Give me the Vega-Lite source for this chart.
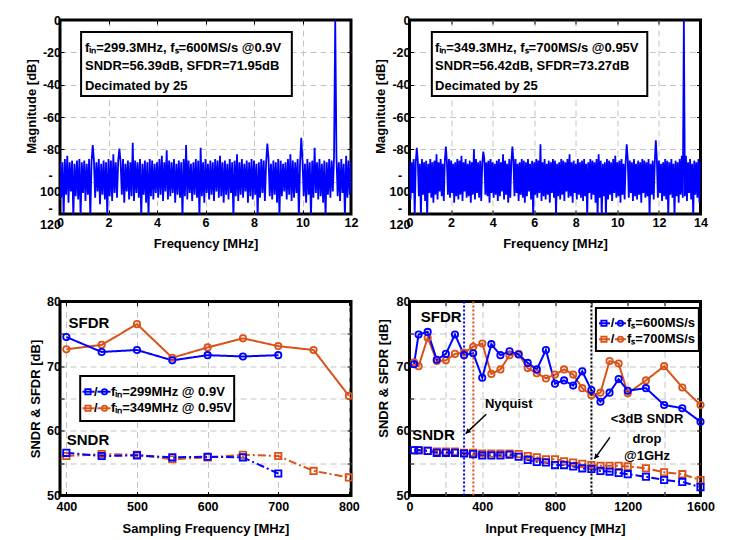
{
"$schema":"https://vega.github.io/schema/vega-lite/v6.json",
"background":"white",
"padding":{"left":23,"top":12,"right":5,"bottom":5},
"config":{
 "font":"Liberation Sans",
 "view":{"stroke":"black","strokeWidth":3},
 "axis":{"domain":false,"labelFontSize":12.5,"labelFontWeight":"bold","labelColor":"black","titleFontSize":13,"titleFontWeight":"bold","titleColor":"black","tickColor":"black","tickSize":-4,"tickWidth":1,"gridDash":[6,4],"gridWidth":1,"labelFlush":false,"labelOverlap":false,"labelBound":false,"labelPadding":6,"titlePadding":4},
 "text":{"fontWeight":"bold","fontSize":13,"color":"black"}
},
"datasets":{
"fft1":[{"x":0,"y":-87},{"x":0.05,"y":-110},{"x":0.1,"y":-88},{"x":0.15,"y":-122},{"x":0.2,"y":-86},{"x":0.25,"y":-108},{"x":0.3,"y":-84},{"x":0.35,"y":-113},{"x":0.4,"y":-88},{"x":0.45,"y":-106},{"x":0.5,"y":-87},{"x":0.55,"y":-122},{"x":0.6,"y":-89},{"x":0.65,"y":-109},{"x":0.7,"y":-87},{"x":0.75,"y":-111},{"x":0.8,"y":-86},{"x":0.85,"y":-122},{"x":0.9,"y":-88},{"x":0.95,"y":-107},
{"x":1,"y":-87},{"x":1.05,"y":-112},{"x":1.1,"y":-89},{"x":1.15,"y":-108},{"x":1.2,"y":-86},{"x":1.25,"y":-122},{"x":1.3,"y":-88},{"x":1.35,"y":-77.3},{"x":1.4,"y":-87},{"x":1.45,"y":-110},{"x":1.5,"y":-88},{"x":1.55,"y":-106},{"x":1.6,"y":-86},{"x":1.65,"y":-114},{"x":1.7,"y":-89},{"x":1.75,"y":-108},{"x":1.8,"y":-87},{"x":1.85,"y":-111},{"x":1.9,"y":-88},{"x":1.95,"y":-122},
{"x":2,"y":-86},{"x":2.05,"y":-109},{"x":2.1,"y":-87},{"x":2.15,"y":-112},{"x":2.2,"y":-83},{"x":2.25,"y":-107},{"x":2.3,"y":-88},{"x":2.35,"y":-110},{"x":2.4,"y":-87},{"x":2.45,"y":-79.6},{"x":2.5,"y":-88},{"x":2.55,"y":-108},{"x":2.6,"y":-86},{"x":2.65,"y":-113},{"x":2.7,"y":-89},{"x":2.75,"y":-106},{"x":2.8,"y":-87},{"x":2.85,"y":-111},{"x":2.9,"y":-88},{"x":2.95,"y":-109},
{"x":3,"y":-75.9},{"x":3.05,"y":-112},{"x":3.1,"y":-87},{"x":3.15,"y":-107},{"x":3.2,"y":-88},{"x":3.25,"y":-110},{"x":3.3,"y":-86},{"x":3.35,"y":-122},{"x":3.4,"y":-89},{"x":3.45,"y":-108},{"x":3.5,"y":-87},{"x":3.55,"y":-113},{"x":3.6,"y":-88},{"x":3.65,"y":-122},{"x":3.7,"y":-86},{"x":3.75,"y":-109},{"x":3.8,"y":-87},{"x":3.85,"y":-111},{"x":3.9,"y":-89},{"x":3.95,"y":-107},
{"x":4,"y":-88},{"x":4.05,"y":-110},{"x":4.1,"y":-86},{"x":4.15,"y":-108},{"x":4.2,"y":-84},{"x":4.25,"y":-112},{"x":4.3,"y":-88},{"x":4.35,"y":-106},{"x":4.4,"y":-80.6},{"x":4.45,"y":-111},{"x":4.5,"y":-87},{"x":4.55,"y":-109},{"x":4.6,"y":-88},{"x":4.65,"y":-107},{"x":4.7,"y":-86},{"x":4.75,"y":-113},{"x":4.8,"y":-89},{"x":4.85,"y":-108},{"x":4.9,"y":-87},{"x":4.95,"y":-110},
{"x":5,"y":-88},{"x":5.05,"y":-122},{"x":5.1,"y":-86},{"x":5.15,"y":-109},{"x":5.2,"y":-77.3},{"x":5.25,"y":-111},{"x":5.3,"y":-87},{"x":5.35,"y":-107},{"x":5.4,"y":-89},{"x":5.45,"y":-112},{"x":5.5,"y":-88},{"x":5.55,"y":-108},{"x":5.6,"y":-86},{"x":5.65,"y":-110},{"x":5.7,"y":-87},{"x":5.75,"y":-122},{"x":5.8,"y":-79},{"x":5.85,"y":-109},{"x":5.9,"y":-88},{"x":5.95,"y":-113},
{"x":6,"y":-86},{"x":6.05,"y":-107},{"x":6.1,"y":-89},{"x":6.15,"y":-111},{"x":6.2,"y":-87},{"x":6.25,"y":-108},{"x":6.3,"y":-88},{"x":6.35,"y":-112},{"x":6.4,"y":-86},{"x":6.45,"y":-106},{"x":6.5,"y":-87},{"x":6.55,"y":-110},{"x":6.6,"y":-84},{"x":6.65,"y":-109},{"x":6.7,"y":-88},{"x":6.75,"y":-113},{"x":6.8,"y":-87},{"x":6.85,"y":-108},{"x":6.9,"y":-89},{"x":6.95,"y":-111},
{"x":7,"y":-86},{"x":7.05,"y":-107},{"x":7.1,"y":-88},{"x":7.15,"y":-122},{"x":7.2,"y":-87},{"x":7.25,"y":-109},{"x":7.3,"y":-83},{"x":7.35,"y":-112},{"x":7.4,"y":-88},{"x":7.45,"y":-108},{"x":7.5,"y":-86},{"x":7.55,"y":-110},{"x":7.6,"y":-89},{"x":7.65,"y":-106},{"x":7.7,"y":-87},{"x":7.75,"y":-113},{"x":7.8,"y":-88},{"x":7.85,"y":-109},{"x":7.9,"y":-86},{"x":7.95,"y":-111},
{"x":8,"y":-87},{"x":8.05,"y":-108},{"x":8.1,"y":-89},{"x":8.15,"y":-122},{"x":8.2,"y":-88},{"x":8.25,"y":-110},{"x":8.3,"y":-86},{"x":8.35,"y":-107},{"x":8.4,"y":-87},{"x":8.45,"y":-112},{"x":8.5,"y":-88},{"x":8.55,"y":-76.5},{"x":8.6,"y":-86},{"x":8.65,"y":-109},{"x":8.7,"y":-89},{"x":8.75,"y":-111},{"x":8.8,"y":-87},{"x":8.85,"y":-108},{"x":8.9,"y":-88},{"x":8.95,"y":-113},
{"x":9,"y":-86},{"x":9.05,"y":-122},{"x":9.1,"y":-87},{"x":9.15,"y":-109},{"x":9.2,"y":-89},{"x":9.25,"y":-106},{"x":9.3,"y":-88},{"x":9.35,"y":-111},{"x":9.4,"y":-86},{"x":9.45,"y":-108},{"x":9.5,"y":-83},{"x":9.55,"y":-112},{"x":9.6,"y":-87},{"x":9.65,"y":-110},{"x":9.7,"y":-88},{"x":9.75,"y":-107},{"x":9.8,"y":-86},{"x":9.85,"y":-122},{"x":9.9,"y":-88},{"x":9.95,"y":-72.8},
{"x":10,"y":-87},{"x":10.05,"y":-109},{"x":10.1,"y":-89},{"x":10.15,"y":-113},{"x":10.2,"y":-86},{"x":10.25,"y":-108},{"x":10.3,"y":-88},{"x":10.35,"y":-122},{"x":10.4,"y":-87},{"x":10.45,"y":-110},{"x":10.5,"y":-79},{"x":10.55,"y":-107},{"x":10.6,"y":-88},{"x":10.65,"y":-111},{"x":10.7,"y":-86},{"x":10.75,"y":-109},{"x":10.8,"y":-89},{"x":10.85,"y":-113},{"x":10.9,"y":-87},{"x":10.95,"y":-122},
{"x":11,"y":-88},{"x":11.05,"y":-108},{"x":11.1,"y":-86},{"x":11.15,"y":-110},{"x":11.2,"y":-87},{"x":11.25,"y":-106},{"x":11.3,"y":-85},{"x":11.35,"y":0},{"x":11.4,"y":-84},{"x":11.45,"y":-109},{"x":11.5,"y":-88},{"x":11.55,"y":-112},{"x":11.6,"y":-86},{"x":11.65,"y":-107},{"x":11.7,"y":-89},{"x":11.75,"y":-122},{"x":11.8,"y":-84},{"x":11.85,"y":-110},{"x":11.9,"y":-87},{"x":11.95,"y":-108},{"x":12,"y":-88}],
"fft2":[{"x":0,"y":-87},{"x":0.05,"y":-111},{"x":0.1,"y":-88},{"x":0.15,"y":-107},{"x":0.2,"y":-86},{"x":0.25,"y":-122},{"x":0.3,"y":-88},{"x":0.35,"y":-79},{"x":0.4,"y":-87},{"x":0.45,"y":-109},{"x":0.5,"y":-89},{"x":0.55,"y":-122},{"x":0.6,"y":-86},{"x":0.65,"y":-108},{"x":0.7,"y":-88},{"x":0.75,"y":-112},{"x":0.8,"y":-87},{"x":0.85,"y":-122},{"x":0.9,"y":-89},{"x":0.95,"y":-107},
{"x":1,"y":-86},{"x":1.05,"y":-110},{"x":1.1,"y":-88},{"x":1.15,"y":-113},{"x":1.2,"y":-87},{"x":1.25,"y":-108},{"x":1.3,"y":-83},{"x":1.35,"y":-111},{"x":1.4,"y":-88},{"x":1.45,"y":-106},{"x":1.5,"y":-86},{"x":1.55,"y":-109},{"x":1.6,"y":-89},{"x":1.65,"y":-112},{"x":1.7,"y":-87},{"x":1.75,"y":-78.3},{"x":1.8,"y":-88},{"x":1.85,"y":-108},{"x":1.9,"y":-86},{"x":1.95,"y":-110},
{"x":2,"y":-87},{"x":2.05,"y":-107},{"x":2.1,"y":-89},{"x":2.15,"y":-113},{"x":2.2,"y":-88},{"x":2.25,"y":-109},{"x":2.3,"y":-86},{"x":2.35,"y":-111},{"x":2.4,"y":-87},{"x":2.45,"y":-108},{"x":2.5,"y":-84},{"x":2.55,"y":-112},{"x":2.6,"y":-88},{"x":2.65,"y":-106},{"x":2.7,"y":-86},{"x":2.75,"y":-110},{"x":2.8,"y":-89},{"x":2.85,"y":-109},{"x":2.9,"y":-87},{"x":2.95,"y":-113},
{"x":3,"y":-88},{"x":3.05,"y":-108},{"x":3.1,"y":-80},{"x":3.15,"y":-111},{"x":3.2,"y":-86},{"x":3.25,"y":-107},{"x":3.3,"y":-88},{"x":3.35,"y":-110},{"x":3.4,"y":-87},{"x":3.45,"y":-112},{"x":3.5,"y":-89},{"x":3.55,"y":-81.4},{"x":3.6,"y":-86},{"x":3.65,"y":-108},{"x":3.7,"y":-88},{"x":3.75,"y":-109},{"x":3.8,"y":-87},{"x":3.85,"y":-113},{"x":3.9,"y":-86},{"x":3.95,"y":-107},
{"x":4,"y":-88},{"x":4.05,"y":-110},{"x":4.1,"y":-89},{"x":4.15,"y":-108},{"x":4.2,"y":-87},{"x":4.25,"y":-112},{"x":4.3,"y":-86},{"x":4.35,"y":-109},{"x":4.4,"y":-88},{"x":4.45,"y":-106},{"x":4.5,"y":-83},{"x":4.55,"y":-111},{"x":4.6,"y":-87},{"x":4.65,"y":-108},{"x":4.7,"y":-89},{"x":4.75,"y":-113},{"x":4.8,"y":-86},{"x":4.85,"y":-110},{"x":4.9,"y":-88},{"x":4.95,"y":-78.3},
{"x":5,"y":-87},{"x":5.05,"y":-109},{"x":5.1,"y":-86},{"x":5.15,"y":-107},{"x":5.2,"y":-89},{"x":5.25,"y":-112},{"x":5.3,"y":-88},{"x":5.35,"y":-108},{"x":5.4,"y":-86},{"x":5.45,"y":-110},{"x":5.5,"y":-87},{"x":5.55,"y":-113},{"x":5.6,"y":-88},{"x":5.65,"y":-109},{"x":5.7,"y":-86},{"x":5.75,"y":-106},{"x":5.8,"y":-89},{"x":5.85,"y":-111},{"x":5.9,"y":-87},{"x":5.95,"y":-122},
{"x":6,"y":-88},{"x":6.05,"y":-108},{"x":6.1,"y":-86},{"x":6.15,"y":-110},{"x":6.2,"y":-87},{"x":6.25,"y":-107},{"x":6.3,"y":-76.9},{"x":6.35,"y":-112},{"x":6.4,"y":-88},{"x":6.45,"y":-109},{"x":6.5,"y":-86},{"x":6.55,"y":-111},{"x":6.6,"y":-89},{"x":6.65,"y":-108},{"x":6.7,"y":-87},{"x":6.75,"y":-113},{"x":6.8,"y":-88},{"x":6.85,"y":-107},{"x":6.9,"y":-86},{"x":6.95,"y":-110},
{"x":7,"y":-87},{"x":7.05,"y":-122},{"x":7.1,"y":-89},{"x":7.15,"y":-109},{"x":7.2,"y":-88},{"x":7.25,"y":-111},{"x":7.3,"y":-86},{"x":7.35,"y":-108},{"x":7.4,"y":-87},{"x":7.45,"y":-112},{"x":7.5,"y":-88},{"x":7.55,"y":-106},{"x":7.6,"y":-86},{"x":7.65,"y":-110},{"x":7.7,"y":-83},{"x":7.75,"y":-109},{"x":7.8,"y":-88},{"x":7.85,"y":-113},{"x":7.9,"y":-87},{"x":7.95,"y":-107},
{"x":8,"y":-89},{"x":8.05,"y":-111},{"x":8.1,"y":-86},{"x":8.15,"y":-108},{"x":8.2,"y":-88},{"x":8.25,"y":-110},{"x":8.3,"y":-87},{"x":8.35,"y":-112},{"x":8.4,"y":-86},{"x":8.45,"y":-109},{"x":8.5,"y":-89},{"x":8.55,"y":-122},{"x":8.6,"y":-88},{"x":8.65,"y":-107},{"x":8.7,"y":-86},{"x":8.75,"y":-111},{"x":8.8,"y":-87},{"x":8.85,"y":-108},{"x":8.9,"y":-88},{"x":8.95,"y":-113},
{"x":9,"y":-86},{"x":9.05,"y":-122},{"x":9.1,"y":-83},{"x":9.15,"y":-110},{"x":9.2,"y":-87},{"x":9.25,"y":-122},{"x":9.3,"y":-89},{"x":9.35,"y":-109},{"x":9.4,"y":-88},{"x":9.45,"y":-122},{"x":9.5,"y":-86},{"x":9.55,"y":-111},{"x":9.6,"y":-87},{"x":9.65,"y":-108},{"x":9.7,"y":-88},{"x":9.75,"y":-112},{"x":9.8,"y":-86},{"x":9.85,"y":-107},{"x":9.9,"y":-84},{"x":9.95,"y":-110},
{"x":10,"y":-88},{"x":10.05,"y":-109},{"x":10.1,"y":-87},{"x":10.15,"y":-113},{"x":10.2,"y":-86},{"x":10.25,"y":-108},{"x":10.3,"y":-89},{"x":10.35,"y":-111},{"x":10.4,"y":-88},{"x":10.45,"y":-76.9},{"x":10.5,"y":-86},{"x":10.55,"y":-110},{"x":10.6,"y":-87},{"x":10.65,"y":-107},{"x":10.7,"y":-88},{"x":10.75,"y":-112},{"x":10.8,"y":-86},{"x":10.85,"y":-109},{"x":10.9,"y":-89},{"x":10.95,"y":-111},
{"x":11,"y":-87},{"x":11.05,"y":-108},{"x":11.1,"y":-88},{"x":11.15,"y":-113},{"x":11.2,"y":-86},{"x":11.25,"y":-107},{"x":11.3,"y":-87},{"x":11.35,"y":-110},{"x":11.4,"y":-88},{"x":11.45,"y":-109},{"x":11.5,"y":-86},{"x":11.55,"y":-122},{"x":11.6,"y":-89},{"x":11.65,"y":-108},{"x":11.7,"y":-87},{"x":11.75,"y":-111},{"x":11.8,"y":-88},{"x":11.85,"y":-74.4},{"x":11.9,"y":-86},{"x":11.95,"y":-110},
{"x":12,"y":-87},{"x":12.05,"y":-107},{"x":12.1,"y":-89},{"x":12.15,"y":-112},{"x":12.2,"y":-88},{"x":12.25,"y":-109},{"x":12.3,"y":-86},{"x":12.35,"y":-111},{"x":12.4,"y":-87},{"x":12.45,"y":-122},{"x":12.5,"y":-88},{"x":12.55,"y":-108},{"x":12.6,"y":-86},{"x":12.65,"y":-110},{"x":12.7,"y":-89},{"x":12.75,"y":-122},{"x":12.8,"y":-87},{"x":12.85,"y":-109},{"x":12.9,"y":-88},{"x":12.95,"y":-113},
{"x":13,"y":-86},{"x":13.05,"y":-108},{"x":13.1,"y":-84},{"x":13.15,"y":-110},{"x":13.2,"y":0},{"x":13.25,"y":-109},{"x":13.3,"y":-84},{"x":13.35,"y":-112},{"x":13.4,"y":-88},{"x":13.45,"y":-107},{"x":13.5,"y":-86},{"x":13.55,"y":-111},{"x":13.6,"y":-89},{"x":13.65,"y":-122},{"x":13.7,"y":-87},{"x":13.75,"y":-108},{"x":13.8,"y":-88},{"x":13.85,"y":-110},{"x":13.9,"y":-86},{"x":13.95,"y":-113},{"x":14,"y":-88}],
"fs":[
{"fs":400,"v":72.6,"s":"b","m":"SFDR"},{"fs":450,"v":73.3,"s":"b","m":"SFDR"},{"fs":500,"v":76.5,"s":"b","m":"SFDR"},{"fs":550,"v":71.3,"s":"b","m":"SFDR"},{"fs":600,"v":72.9,"s":"b","m":"SFDR"},{"fs":650,"v":74.3,"s":"b","m":"SFDR"},{"fs":700,"v":73.1,"s":"b","m":"SFDR"},{"fs":750,"v":72.5,"s":"b","m":"SFDR"},{"fs":800,"v":65.4,"s":"b","m":"SFDR"},
{"fs":400,"v":56.1,"s":"b","m":"SNDR"},{"fs":450,"v":56.4,"s":"b","m":"SNDR"},{"fs":500,"v":56.3,"s":"b","m":"SNDR"},{"fs":550,"v":55.6,"s":"b","m":"SNDR"},{"fs":600,"v":55.9,"s":"b","m":"SNDR"},{"fs":650,"v":56.3,"s":"b","m":"SNDR"},{"fs":700,"v":56.1,"s":"b","m":"SNDR"},{"fs":750,"v":53.8,"s":"b","m":"SNDR"},{"fs":800,"v":52.8,"s":"b","m":"SNDR"},
{"fs":400,"v":74.5,"s":"a","m":"SFDR"},{"fs":450,"v":72.2,"s":"a","m":"SFDR"},{"fs":500,"v":72.5,"s":"a","m":"SFDR"},{"fs":550,"v":70.9,"s":"a","m":"SFDR"},{"fs":600,"v":71.7,"s":"a","m":"SFDR"},{"fs":650,"v":71.5,"s":"a","m":"SFDR"},{"fs":700,"v":71.7,"s":"a","m":"SFDR"},
{"fs":400,"v":56.6,"s":"a","m":"SNDR"},{"fs":450,"v":56.1,"s":"a","m":"SNDR"},{"fs":500,"v":56.2,"s":"a","m":"SNDR"},{"fs":550,"v":55.9,"s":"a","m":"SNDR"},{"fs":600,"v":56.0,"s":"a","m":"SNDR"},{"fs":650,"v":55.9,"s":"a","m":"SNDR"},{"fs":700,"v":53.4,"s":"a","m":"SNDR"}],
"fin":[
{"f":25,"v":70.6,"s":"b","m":"SFDR"},{"f":50,"v":70.0,"s":"b","m":"SFDR"},{"f":100,"v":74.4,"s":"b","m":"SFDR"},{"f":150,"v":70.8,"s":"b","m":"SFDR"},{"f":200,"v":70.9,"s":"b","m":"SFDR"},{"f":250,"v":71.9,"s":"b","m":"SFDR"},{"f":300,"v":72.1,"s":"b","m":"SFDR"},{"f":350,"v":73.0,"s":"b","m":"SFDR"},{"f":400,"v":73.5,"s":"b","m":"SFDR"},{"f":450,"v":68.8,"s":"b","m":"SFDR"},{"f":500,"v":69.5,"s":"b","m":"SFDR"},{"f":550,"v":71.7,"s":"b","m":"SFDR"},{"f":600,"v":71.9,"s":"b","m":"SFDR"},{"f":650,"v":69.7,"s":"b","m":"SFDR"},{"f":700,"v":68.9,"s":"b","m":"SFDR"},{"f":750,"v":68.1,"s":"b","m":"SFDR"},{"f":800,"v":68.7,"s":"b","m":"SFDR"},{"f":850,"v":69.5,"s":"b","m":"SFDR"},{"f":900,"v":68.7,"s":"b","m":"SFDR"},{"f":950,"v":66.6,"s":"b","m":"SFDR"},{"f":1000,"v":65.5,"s":"b","m":"SFDR"},{"f":1050,"v":65.9,"s":"b","m":"SFDR"},{"f":1100,"v":70.8,"s":"b","m":"SFDR"},{"f":1150,"v":70.4,"s":"b","m":"SFDR"},{"f":1200,"v":65.8,"s":"b","m":"SFDR"},{"f":1300,"v":67.8,"s":"b","m":"SFDR"},{"f":1400,"v":70.0,"s":"b","m":"SFDR"},{"f":1500,"v":66.7,"s":"b","m":"SFDR"},{"f":1600,"v":64.0,"s":"b","m":"SFDR"},
{"f":25,"v":57.0,"s":"b","m":"SNDR"},{"f":50,"v":57.0,"s":"b","m":"SNDR"},{"f":100,"v":56.9,"s":"b","m":"SNDR"},{"f":150,"v":56.8,"s":"b","m":"SNDR"},{"f":200,"v":56.8,"s":"b","m":"SNDR"},{"f":250,"v":56.8,"s":"b","m":"SNDR"},{"f":300,"v":56.6,"s":"b","m":"SNDR"},{"f":350,"v":56.6,"s":"b","m":"SNDR"},{"f":400,"v":56.5,"s":"b","m":"SNDR"},{"f":450,"v":56.5,"s":"b","m":"SNDR"},{"f":500,"v":56.5,"s":"b","m":"SNDR"},{"f":550,"v":56.5,"s":"b","m":"SNDR"},{"f":600,"v":56.4,"s":"b","m":"SNDR"},{"f":650,"v":56.1,"s":"b","m":"SNDR"},{"f":700,"v":55.9,"s":"b","m":"SNDR"},{"f":750,"v":55.6,"s":"b","m":"SNDR"},{"f":800,"v":55.6,"s":"b","m":"SNDR"},{"f":850,"v":55.3,"s":"b","m":"SNDR"},{"f":900,"v":55.1,"s":"b","m":"SNDR"},{"f":950,"v":54.9,"s":"b","m":"SNDR"},{"f":1000,"v":54.7,"s":"b","m":"SNDR"},{"f":1050,"v":54.6,"s":"b","m":"SNDR"},{"f":1100,"v":54.6,"s":"b","m":"SNDR"},{"f":1150,"v":54.6,"s":"b","m":"SNDR"},{"f":1200,"v":54.5,"s":"b","m":"SNDR"},{"f":1300,"v":54.2,"s":"b","m":"SNDR"},{"f":1400,"v":53.6,"s":"b","m":"SNDR"},{"f":1500,"v":53.3,"s":"b","m":"SNDR"},{"f":1600,"v":52.4,"s":"b","m":"SNDR"},
{"f":25,"v":70.3,"s":"a","m":"SFDR"},{"f":50,"v":74.9,"s":"a","m":"SFDR"},{"f":100,"v":75.3,"s":"a","m":"SFDR"},{"f":150,"v":71.0,"s":"a","m":"SFDR"},{"f":200,"v":71.9,"s":"a","m":"SFDR"},{"f":250,"v":74.9,"s":"a","m":"SFDR"},{"f":300,"v":71.7,"s":"a","m":"SFDR"},{"f":350,"v":72.0,"s":"a","m":"SFDR"},{"f":400,"v":68.2,"s":"a","m":"SFDR"},{"f":450,"v":73.4,"s":"a","m":"SFDR"},{"f":500,"v":71.7,"s":"a","m":"SFDR"},{"f":550,"v":72.3,"s":"a","m":"SFDR"},{"f":600,"v":71.8,"s":"a","m":"SFDR"},{"f":650,"v":70.5,"s":"a","m":"SFDR"},{"f":700,"v":69.5,"s":"a","m":"SFDR"},{"f":750,"v":72.5,"s":"a","m":"SFDR"},{"f":800,"v":67.3,"s":"a","m":"SFDR"},{"f":850,"v":67.8,"s":"a","m":"SFDR"},{"f":900,"v":67.0,"s":"a","m":"SFDR"},{"f":950,"v":69.2,"s":"a","m":"SFDR"},{"f":1000,"v":66.3,"s":"a","m":"SFDR"},{"f":1050,"v":64.5,"s":"a","m":"SFDR"},{"f":1100,"v":65.9,"s":"a","m":"SFDR"},{"f":1150,"v":68.0,"s":"a","m":"SFDR"},{"f":1200,"v":66.2,"s":"a","m":"SFDR"},{"f":1300,"v":66.6,"s":"a","m":"SFDR"},{"f":1400,"v":64.0,"s":"a","m":"SFDR"},{"f":1500,"v":63.5,"s":"a","m":"SFDR"},{"f":1600,"v":61.4,"s":"a","m":"SFDR"},
{"f":25,"v":57.0,"s":"a","m":"SNDR"},{"f":50,"v":57.0,"s":"a","m":"SNDR"},{"f":100,"v":56.9,"s":"a","m":"SNDR"},{"f":150,"v":56.6,"s":"a","m":"SNDR"},{"f":200,"v":56.6,"s":"a","m":"SNDR"},{"f":250,"v":56.6,"s":"a","m":"SNDR"},{"f":300,"v":56.5,"s":"a","m":"SNDR"},{"f":350,"v":56.4,"s":"a","m":"SNDR"},{"f":400,"v":56.2,"s":"a","m":"SNDR"},{"f":450,"v":56.2,"s":"a","m":"SNDR"},{"f":500,"v":56.2,"s":"a","m":"SNDR"},{"f":550,"v":56.3,"s":"a","m":"SNDR"},{"f":600,"v":56.0,"s":"a","m":"SNDR"},{"f":650,"v":55.5,"s":"a","m":"SNDR"},{"f":700,"v":55.2,"s":"a","m":"SNDR"},{"f":750,"v":55.1,"s":"a","m":"SNDR"},{"f":800,"v":54.7,"s":"a","m":"SNDR"},{"f":850,"v":54.7,"s":"a","m":"SNDR"},{"f":900,"v":54.5,"s":"a","m":"SNDR"},{"f":950,"v":54.2,"s":"a","m":"SNDR"},{"f":1000,"v":54.1,"s":"a","m":"SNDR"},{"f":1050,"v":53.8,"s":"a","m":"SNDR"},{"f":1100,"v":53.7,"s":"a","m":"SNDR"},{"f":1150,"v":53.5,"s":"a","m":"SNDR"},{"f":1200,"v":53.3,"s":"a","m":"SNDR"},{"f":1300,"v":52.9,"s":"a","m":"SNDR"},{"f":1400,"v":52.4,"s":"a","m":"SNDR"},{"f":1500,"v":52.1,"s":"a","m":"SNDR"},{"f":1600,"v":51.3,"s":"a","m":"SNDR"}]
},
"concat":[
{"width":291,"height":194,"resolve":{"axis":{"x":"independent","y":"independent"}},"layer":[
 {"data":{"name":"fft1"},"mark":{"type":"line","color":"#0000ff","strokeWidth":1.8,"clip":true},
  "encoding":{
   "x":{"field":"x","type":"quantitative","scale":{"domain":[0,12],"nice":false,"zero":false},"title":"Frequency [MHz]",
    "axis":{"values":[0,2,4,6,8,10,12],"format":"d","titlePadding":9,"gridColor":{"condition":{"test":"datum.value == 0 || datum.value == 12","value":"transparent"},"value":"#c4c4c4"}}},
   "y":{"field":"y","type":"quantitative","scale":{"domain":[-120,0],"nice":false,"zero":false},"title":"Magnitude [dB]",
    "axis":{"values":[0,-20,-40,-60,-80,-100,-120],"labelOverlap":false,"titlePadding":1.5,"labelExpr":"datum.value == 0 ? '0' : (datum.value > -100 ? '-' + (-datum.value) : ['-', '' + (-datum.value)])","labelLineHeight":16,"labelOffset":{"condition":{"test":"datum.value <= -100","value":-6},"value":0},"labelAlign":{"condition":{"test":"datum.value <= -100","value":"center"},"value":"right"},"labelPadding":{"condition":{"test":"datum.value <= -100","value":14},"value":3.5},"titleY":86,"gridColor":{"condition":{"test":"datum.value == 0 || datum.value == -120","value":"transparent"},"value":"#c4c4c4"}}}}},
 {"data":{"values":[{"x":0.87,"x2":9.56,"y":-7.4,"y2":-47}]},"mark":{"type":"rect","fill":"white","stroke":"black","strokeWidth":2},
  "encoding":{"x":{"field":"x","type":"quantitative","axis":{"orient":"top","labels":false,"grid":false,"title":null,"values":[0,2,4,6,8,10,12]}},"x2":{"field":"x2"},"y":{"field":"y","type":"quantitative","axis":{"orient":"right","labels":false,"grid":false,"title":null,"values":[0,-20,-40,-60,-80,-100,-120]}},"y2":{"field":"y2"}}},
 {"data":{"values":[{"x":1.03,"y":-17.1,"t":"fᵢₙ=299.3MHz, fₛ=600MS/s @0.9V"},{"x":1.03,"y":-28.4,"t":"SNDR=56.39dB, SFDR=71.95dB"},{"x":1.03,"y":-40.8,"t":"Decimated by 25"}]},
  "mark":{"type":"text","align":"left","baseline":"middle","fontSize":13},
  "encoding":{"x":{"field":"x","type":"quantitative","axis":null},"y":{"field":"y","type":"quantitative","axis":null},"text":{"field":"t"}}}
]},
{"width":291,"height":194,"resolve":{"axis":{"x":"independent","y":"independent"}},"layer":[
 {"data":{"name":"fft2"},"mark":{"type":"line","color":"#0000ff","strokeWidth":1.8,"clip":true},
  "encoding":{
   "x":{"field":"x","type":"quantitative","scale":{"domain":[0,14],"nice":false,"zero":false},"title":"Frequency [MHz]",
    "axis":{"values":[0,2,4,6,8,10,12,14],"format":"d","titlePadding":9,"gridColor":{"condition":{"test":"datum.value == 0 || datum.value == 14","value":"transparent"},"value":"#c4c4c4"}}},
   "y":{"field":"y","type":"quantitative","scale":{"domain":[-120,0],"nice":false,"zero":false},"title":"Magnitude [dB]",
    "axis":{"values":[0,-20,-40,-60,-80,-100,-120],"labelOverlap":false,"titlePadding":1.5,"labelExpr":"datum.value == 0 ? '0' : (datum.value > -100 ? '-' + (-datum.value) : ['-', '' + (-datum.value)])","labelLineHeight":16,"labelOffset":{"condition":{"test":"datum.value <= -100","value":-6},"value":0},"labelAlign":{"condition":{"test":"datum.value <= -100","value":"center"},"value":"right"},"labelPadding":{"condition":{"test":"datum.value <= -100","value":14},"value":3.5},"titleY":86,"gridColor":{"condition":{"test":"datum.value == 0 || datum.value == -120","value":"transparent"},"value":"#c4c4c4"}}}}},
 {"data":{"values":[{"x":1.075,"x2":11.44,"y":-7.4,"y2":-47}]},"mark":{"type":"rect","fill":"white","stroke":"black","strokeWidth":2},
  "encoding":{"x":{"field":"x","type":"quantitative","axis":{"orient":"top","labels":false,"grid":false,"title":null,"values":[0,2,4,6,8,10,12,14]}},"x2":{"field":"x2"},"y":{"field":"y","type":"quantitative","axis":{"orient":"right","labels":false,"grid":false,"title":null,"values":[0,-20,-40,-60,-80,-100,-120]}},"y2":{"field":"y2"}}},
 {"data":{"values":[{"x":1.23,"y":-17.1,"t":"fᵢₙ=349.3MHz, fₛ=700MS/s @0.95V"},{"x":1.23,"y":-28.4,"t":"SNDR=56.42dB, SFDR=73.27dB"},{"x":1.23,"y":-40.8,"t":"Decimated by 25"}]},
  "mark":{"type":"text","align":"left","baseline":"middle","fontSize":13},
  "encoding":{"x":{"field":"x","type":"quantitative","axis":null},"y":{"field":"y","type":"quantitative","axis":null},"text":{"field":"t"}}}
]},
{"width":291,"height":194,"resolve":{"axis":{"x":"independent","y":"independent"}},"layer":[
 {"data":{"name":"fs"},"mark":{"type":"line","strokeWidth":2,"clip":true},
  "encoding":{
   "x":{"field":"fs","type":"quantitative","scale":{"domain":[391,803],"nice":false,"zero":false},"title":"Sampling Frequency [MHz]",
    "axis":{"values":[400,500,600,700,800],"format":"d","labelPadding":9,"titlePadding":9,"gridColor":"#c4c4c4"}},
   "y":{"field":"v","type":"quantitative","scale":{"domain":[50,80],"nice":false,"zero":false},"title":"SNDR & SFDR [dB]",
    "axis":{"values":[50,55,60,65,70,75,80],"labelOverlap":false,"labelPadding":3.5,"titlePadding":4,"labelExpr":"datum.value % 10 == 0 ? datum.label : ''","gridColor":{"condition":{"test":"datum.value == 50 || datum.value == 80","value":"transparent"},"value":"#c4c4c4"}}},
   "color":{"field":"s","type":"nominal","scale":{"domain":["a","b","k"],"range":["#0000ff","#d95319","black"]},"legend":null},
   "strokeDash":{"field":"m","type":"nominal","scale":{"domain":["SFDR","SNDR"],"range":[[1,0],[8,3,2,3]]},"legend":null}}},
 {"data":{"name":"fs"},"mark":{"type":"point","filled":false,"size":40,"strokeWidth":1.8,"opacity":1},
  "encoding":{"x":{"field":"fs","type":"quantitative","axis":{"orient":"top","labels":false,"grid":false,"title":null,"values":[400,500,600,700,800]}},"y":{"field":"v","type":"quantitative","axis":{"orient":"right","labels":false,"grid":false,"title":null,"values":[50,55,60,65,70,75,80]}},
   "color":{"field":"s","type":"nominal","legend":null},
   "shape":{"field":"m","type":"nominal","scale":{"domain":["SFDR","SNDR"],"range":["circle","square"]},"legend":null}}},
 {"data":{"values":[{"x":403,"y":76.6,"t":"SFDR"},{"x":400.6,"y":58.6,"t":"SNDR"}]},
  "mark":{"type":"text","align":"left","baseline":"middle","fontSize":15},
  "encoding":{"x":{"field":"x","type":"quantitative","axis":null},"y":{"field":"y","type":"quantitative","axis":null},"text":{"field":"t"}}},
 {"data":{"values":[{"x":419.6,"x2":637.6,"y":68.48,"y2":61.52}]},"mark":{"type":"rect","fill":"white","stroke":"black","strokeWidth":2},
  "encoding":{"x":{"field":"x","type":"quantitative","axis":null},"x2":{"field":"x2"},"y":{"field":"y","type":"quantitative","axis":null},"y2":{"field":"y2"}}},
 {"data":{"values":[{"x":422.9,"x2":439.8,"y":66.05,"s":"a"},{"x":444.1,"x2":462.5,"y":66.05,"s":"a"},{"x":422.9,"x2":439.8,"y":63.49,"s":"b"},{"x":444.1,"x2":462.5,"y":63.49,"s":"b"}]},
  "mark":{"type":"rule","strokeWidth":2},
  "encoding":{"x":{"field":"x","type":"quantitative","axis":null},"x2":{"field":"x2"},"y":{"field":"y","type":"quantitative","axis":null},"color":{"field":"s","type":"nominal","legend":null}}},
 {"data":{"values":[{"x":430.6,"y":66.05,"s":"a","m":"SNDR"},{"x":454,"y":66.05,"s":"a","m":"SFDR"},{"x":430.6,"y":63.49,"s":"b","m":"SNDR"},{"x":454,"y":63.49,"s":"b","m":"SFDR"}]},
  "mark":{"type":"point","filled":false,"size":28,"strokeWidth":1.8,"opacity":1},
  "encoding":{"x":{"field":"x","type":"quantitative","axis":null},"y":{"field":"y","type":"quantitative","axis":null},"color":{"field":"s","type":"nominal","legend":null},"shape":{"field":"m","type":"nominal","legend":null}}},
 {"data":{"values":[{"x":439.3,"y":66.05,"t":"/"},{"x":439.3,"y":63.49,"t":"/"},{"x":463.2,"y":66.05,"t":"fᵢₙ=299MHz @ 0.9V"},{"x":463.2,"y":63.49,"t":"fᵢₙ=349MHz @ 0.95V"}]},
  "mark":{"type":"text","align":"left","baseline":"middle","fontSize":13},
  "encoding":{"x":{"field":"x","type":"quantitative","axis":null},"y":{"field":"y","type":"quantitative","axis":null},"text":{"field":"t"}}}
]},
{"width":291,"height":194,"resolve":{"axis":{"x":"independent","y":"independent"}},"layer":[
 {"data":{"name":"fin"},"mark":{"type":"line","strokeWidth":2,"clip":true},
  "encoding":{
   "x":{"field":"f","type":"quantitative","scale":{"domain":[0,1600],"nice":false,"zero":false},"title":"Input Frequency [MHz]",
    "axis":{"values":[0,200,400,600,800,1000,1200,1400,1600],"format":"d","labelExpr":"datum.value % 400 == 0 ? datum.label : ''","labelPadding":9,"titlePadding":9,"gridColor":{"condition":{"test":"datum.value == 0 || datum.value == 1600","value":"transparent"},"value":"#c4c4c4"}}},
   "y":{"field":"v","type":"quantitative","scale":{"domain":[50,80],"nice":false,"zero":false},"title":"SNDR & SFDR [dB]",
    "axis":{"values":[50,55,60,65,70,75,80],"labelOverlap":false,"labelPadding":3.5,"titlePadding":6,"labelExpr":"datum.value % 10 == 0 ? datum.label : ''","titleY":76.5,"gridColor":{"condition":{"test":"datum.value == 50 || datum.value == 80","value":"transparent"},"value":"#c4c4c4"}}},
   "color":{"field":"s","type":"nominal","scale":{"domain":["a","b","k"],"range":["#0000ff","#d95319","black"]},"legend":null},
   "strokeDash":{"field":"m","type":"nominal","scale":{"domain":["SFDR","SNDR"],"range":[[1,0],[8,3,2,3]]},"legend":null}}},
 {"data":{"values":[{"x":300,"s":"a"},{"x":351,"s":"b"},{"x":1000,"s":"k"}]},
  "mark":{"type":"rule","strokeWidth":2,"strokeDash":[2,2]},
  "encoding":{"x":{"field":"x","type":"quantitative","axis":null},"color":{"field":"s","type":"nominal","legend":null}}},
 {"data":{"name":"fin"},"mark":{"type":"point","filled":false,"size":40,"strokeWidth":1.8,"opacity":1},
  "encoding":{"x":{"field":"f","type":"quantitative","axis":{"orient":"top","labels":false,"grid":false,"title":null,"values":[0,200,400,600,800,1000,1200,1400,1600]}},"y":{"field":"v","type":"quantitative","axis":{"orient":"right","labels":false,"grid":false,"title":null,"values":[50,55,60,65,70,75,80]}},
   "color":{"field":"s","type":"nominal","legend":null},
   "shape":{"field":"m","type":"nominal","scale":{"domain":["SFDR","SNDR"],"range":["circle","square"]},"legend":null}}},
 {"data":{"values":[{"x":62,"y":77.6,"t":"SFDR"},{"x":15,"y":59.3,"t":"SNDR"}]},
  "mark":{"type":"text","align":"left","baseline":"middle","fontSize":15},
  "encoding":{"x":{"field":"x","type":"quantitative","axis":null},"y":{"field":"y","type":"quantitative","axis":null},"text":{"field":"t"}}},
 {"data":{"values":[{"x":415,"y":64.1,"t":"Nyquist"}]},
  "mark":{"type":"text","align":"left","baseline":"middle","fontSize":13},
  "encoding":{"x":{"field":"x","type":"quantitative","axis":null},"y":{"field":"y","type":"quantitative","axis":null},"text":{"field":"t"}}},
 {"data":{"values":[{"x":1306,"y":61.8,"t":"<3dB SNDR"},{"x":1306,"y":58.7,"t":"drop"},{"x":1306,"y":56.1,"t":"@1GHz"}]},
  "mark":{"type":"text","align":"center","baseline":"middle","fontSize":13},
  "encoding":{"x":{"field":"x","type":"quantitative","axis":null},"y":{"field":"y","type":"quantitative","axis":null},"text":{"field":"t"}}},
 {"data":{"values":[{"x":422,"y":62.57,"x2":309,"y2":59.57},{"x":1102,"y":58.98,"x2":1017,"y2":55.66}]},
  "mark":{"type":"rule","color":"black","strokeWidth":1.5},
  "encoding":{"x":{"field":"x","type":"quantitative","axis":null},"x2":{"field":"x2"},"y":{"field":"y","type":"quantitative","axis":null},"y2":{"field":"y2"}}},
 {"data":{"values":[{"x":319,"y":59.83}]},
  "mark":{"type":"point","shape":"triangle-up","filled":true,"color":"black","size":30,"angle":227,"opacity":1},
  "encoding":{"x":{"field":"x","type":"quantitative","axis":null},"y":{"field":"y","type":"quantitative","axis":null}}},
 {"data":{"values":[{"x":1025,"y":55.97}]},
  "mark":{"type":"point","shape":"triangle-up","filled":true,"color":"black","size":30,"angle":218,"opacity":1},
  "encoding":{"x":{"field":"x","type":"quantitative","axis":null},"y":{"field":"y","type":"quantitative","axis":null}}},
 {"data":{"values":[{"x":1025,"x2":1591,"y":79.0,"y2":72.35}]},"mark":{"type":"rect","fill":"white","stroke":"black","strokeWidth":2},
  "encoding":{"x":{"field":"x","type":"quantitative","axis":null},"x2":{"field":"x2"},"y":{"field":"y","type":"quantitative","axis":null},"y2":{"field":"y2"}}},
 {"data":{"values":[{"x":1042,"x2":1102,"y":76.63,"s":"a"},{"x":1130,"x2":1190,"y":76.63,"s":"a"},{"x":1042,"x2":1102,"y":74.16,"s":"b"},{"x":1130,"x2":1190,"y":74.16,"s":"b"}]},
  "mark":{"type":"rule","strokeWidth":2},
  "encoding":{"x":{"field":"x","type":"quantitative","axis":null},"x2":{"field":"x2"},"y":{"field":"y","type":"quantitative","axis":null},"color":{"field":"s","type":"nominal","legend":null}}},
 {"data":{"values":[{"x":1069,"y":76.63,"s":"a","m":"SNDR"},{"x":1160,"y":76.63,"s":"a","m":"SFDR"},{"x":1069,"y":74.16,"s":"b","m":"SNDR"},{"x":1160,"y":74.16,"s":"b","m":"SFDR"}]},
  "mark":{"type":"point","filled":false,"size":28,"strokeWidth":1.8,"opacity":1},
  "encoding":{"x":{"field":"x","type":"quantitative","axis":null},"y":{"field":"y","type":"quantitative","axis":null},"color":{"field":"s","type":"nominal","legend":null},"shape":{"field":"m","type":"nominal","legend":null}}},
 {"data":{"values":[{"x":1107,"y":76.63,"t":"/"},{"x":1107,"y":74.16,"t":"/"},{"x":1196,"y":76.63,"t":"fₛ=600MS/s"},{"x":1196,"y":74.16,"t":"fₛ=700MS/s"}]},
  "mark":{"type":"text","align":"left","baseline":"middle","fontSize":13},
  "encoding":{"x":{"field":"x","type":"quantitative","axis":null},"y":{"field":"y","type":"quantitative","axis":null},"text":{"field":"t"}}}
]}
],
"columns":2,
"spacing":{"row":87.5,"column":58.5},
"bounds":"flush"
}
